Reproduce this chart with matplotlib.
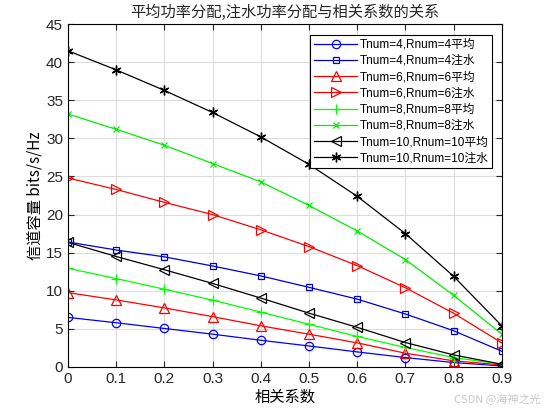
import numpy as np
import matplotlib
matplotlib.use('Agg')
import matplotlib.pyplot as plt

plt.rcParams['font.family'] = ['Liberation Sans', 'Noto Sans CJK SC']

# 相关系数
rho = [0, 0.1, 0.2, 0.3, 0.4, 0.5, 0.6, 0.7, 0.8, 0.9]

# 信道容量 (bits/s/Hz)
t4_avg = [6.5, 5.8, 5.05, 4.3, 3.5, 2.75, 1.97, 1.23, 0.57, 0.13]
t4_wf = [16.4, 15.35, 14.45, 13.25, 11.95, 10.45, 8.9, 6.95, 4.75, 2.06]
t6_avg = [9.75, 8.8, 7.75, 6.6, 5.4, 4.3, 3.16, 1.8, 0.8, 0.26]
t6_wf = [24.8, 23.3, 21.6, 20.0, 18.0, 15.8, 13.3, 10.4, 7.05, 3.16]
t8_avg = [12.95, 11.6, 10.2, 8.77, 7.2, 5.6, 4.0, 2.55, 1.23, 0.35]
t8_wf = [33.2, 31.2, 29.1, 26.7, 24.3, 21.2, 17.85, 14.1, 9.4, 4.3]
t10_avg = [16.35, 14.5, 12.76, 10.96, 9.04, 7.06, 5.2, 3.2, 1.58, 0.35]
t10_wf = [41.5, 39.0, 36.3, 33.4, 30.2, 26.6, 22.4, 17.5, 11.9, 5.4]

labels = ['Tnum=4,Rnum=4平均', 'Tnum=4,Rnum=4注水',
          'Tnum=6,Rnum=6平均', 'Tnum=6,Rnum=6注水',
          'Tnum=8,Rnum=8平均', 'Tnum=8,Rnum=8注水',
          'Tnum=10,Rnum=10平均', 'Tnum=10,Rnum=10注水']

fig = plt.figure(figsize=(5.52, 4.16), dpi=100)
ax = fig.add_axes([0.123, 0.118, 0.786, 0.824])

lw = 0.9
ax.plot(rho, t4_avg, 'o-', color='#0000ff', mfc='none', lw=lw, ms=6, mew=0.9, label=labels[0])
ax.plot(rho, t4_wf, 's-', color='#0000cc', mfc='none', lw=lw, ms=5, mew=0.9, label=labels[1])
ax.plot(rho, t6_avg, '^-', color='#ff0000', mfc='none', lw=lw, ms=6.5, mew=0.9, label=labels[2])
ax.plot(rho, t6_wf, '>-', color='#ff0000', mfc='none', lw=lw, ms=6.5, mew=0.9, label=labels[3])
ax.plot(rho, t8_avg, '+-', color='#00ff00', lw=lw, ms=7, mew=0.9, label=labels[4])
ax.plot(rho, t8_wf, 'x-', color='#00ee00', lw=lw, ms=4.5, mew=0.9, label=labels[5])
ax.plot(rho, t10_avg, '<-', color='black', mfc='none', lw=lw, ms=6.5, mew=0.9, label=labels[6])
ax.plot(rho, t10_wf, '-', marker=(6, 2, 0), color='black', lw=lw, ms=7, mew=1.0, label=labels[7])

ax.set_xlim(0, 0.9)
ax.set_ylim(0, 45)
ax.set_xticks(rho)
ax.set_xticklabels(['0'] + ['%.1f' % v for v in rho[1:]])
ax.set_yticks(np.arange(0, 46, 5))
ax.tick_params(direction='in', top=True, right=True, labelsize=11, colors='#262626', length=4)
for s in ax.spines.values():
    s.set_linewidth(0.8)
ax.grid(True, color='#dcdcdc', lw=0.8)
ax.set_axisbelow(True)

ax.set_title('平均功率分配,注水功率分配与相关系数的关系', fontsize=11,
             family=['Noto Sans CJK SC', 'DejaVu Sans'], color='#262626', pad=5)
ax.set_xlabel('相关系数', fontsize=11, family=['Noto Sans CJK SC', 'DejaVu Sans'], labelpad=2)
ax.set_ylabel('信道容量 bits/s/Hz', fontsize=11, family=['Noto Sans CJK SC', 'Liberation Sans'], labelpad=2)

leg = ax.legend(loc='upper right', bbox_to_anchor=(0.978, 0.968),
                prop={'family': ['Liberation Sans', 'Noto Sans CJK SC'], 'size': 8.5},
                frameon=True, fancybox=False, edgecolor='black', framealpha=1,
                handlelength=3.7, borderpad=0.3, labelspacing=0.36, handletextpad=0.2,
                borderaxespad=0)
leg.get_frame().set_linewidth(0.8)

fig.text(0.98, 0.03, 'CSDN @海神之光', ha='right', fontsize=8, color='#c8c8c8',
         family=['Noto Sans CJK SC', 'DejaVu Sans'])

fig.savefig('out.png', dpi=100)
